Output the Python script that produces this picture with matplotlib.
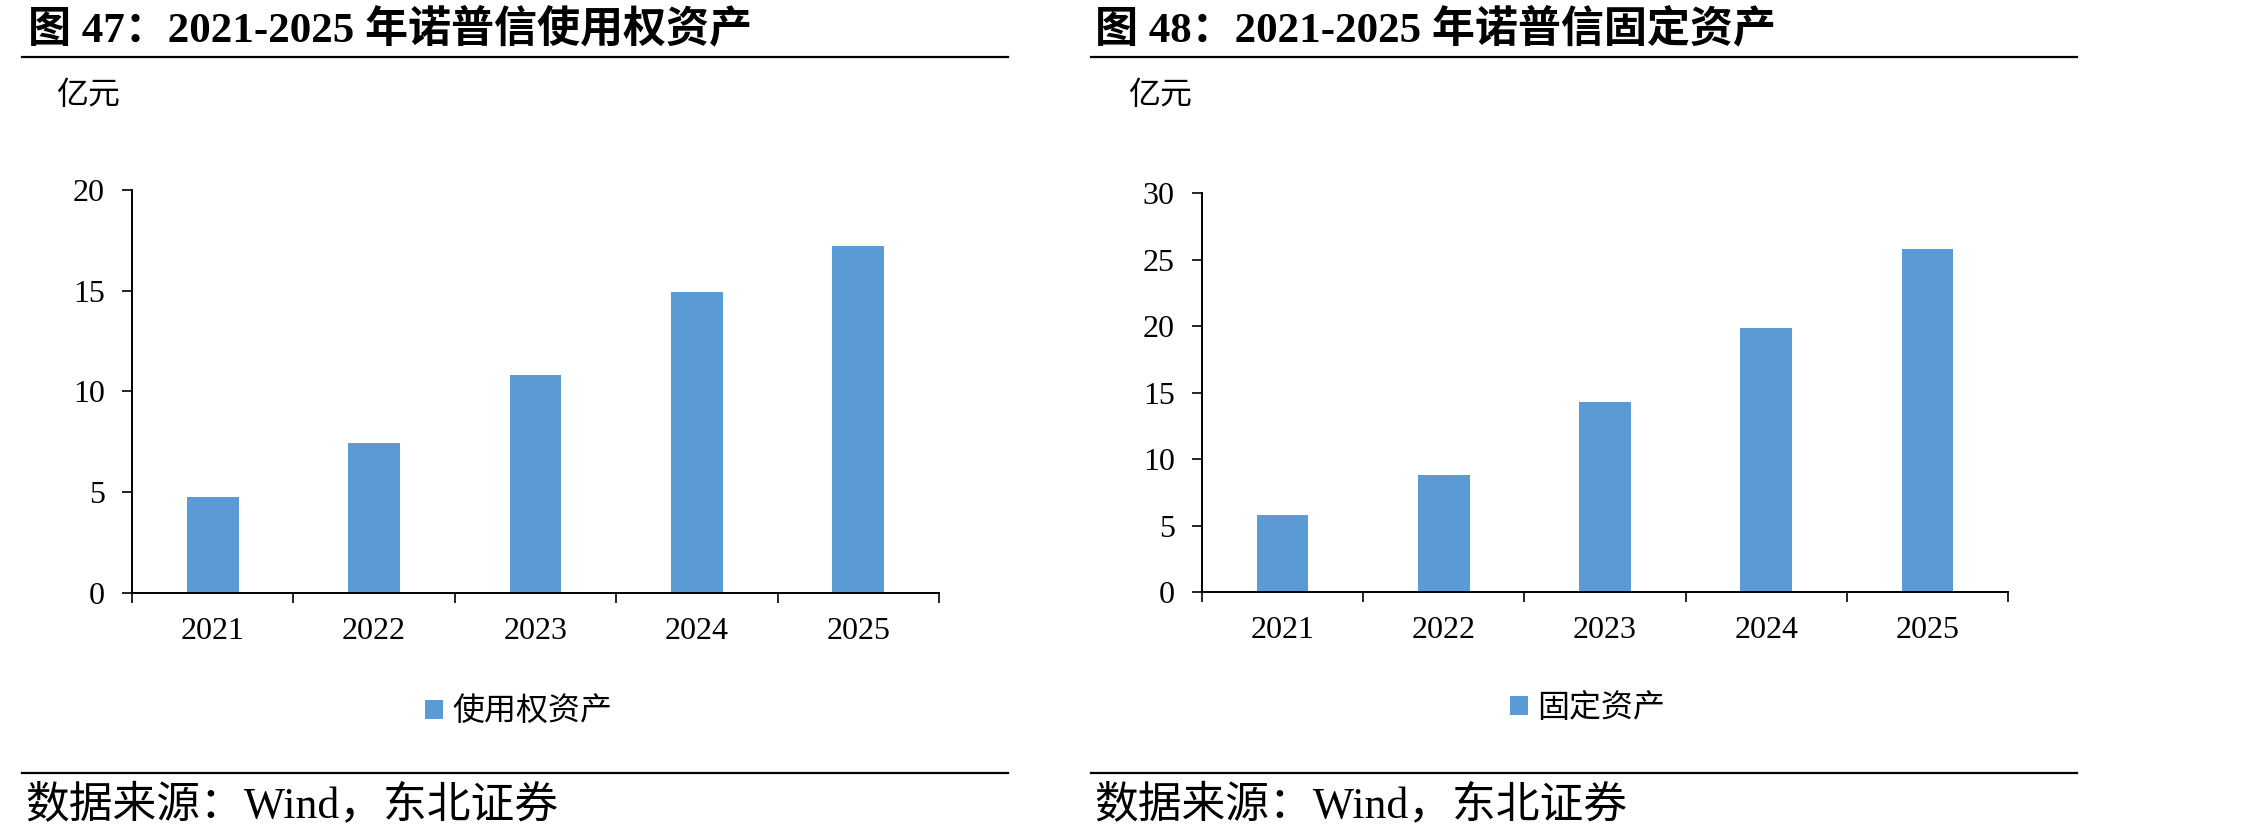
import matplotlib
matplotlib.use("Agg")
import matplotlib.pyplot as plt
from matplotlib.lines import Line2D
from matplotlib.patches import Patch

plt.rcParams['font.family'] = ['Liberation Serif', 'Noto Sans CJK SC']

years = ["2021", "2022", "2023", "2024", "2025"]
right_of_use = [4.74, 7.43, 10.83, 14.95, 17.23]
fixed_assets = [5.78, 8.82, 14.27, 19.83, 25.79]

titles = ["图 47：2021-2025 年诺普信使用权资产", "图 48：2021-2025 年诺普信固定资产"]
series_names = ["使用权资产", "固定资产"]
unit = "亿元"
source = "数据来源：Wind，东北证券"

BAR_COLOR = "#5B9BD5"
W, H = 2268, 838

fig = plt.figure(figsize=(W / 100, H / 100), dpi=100)


def fx(px):
    return px / W


def fy(py):
    return 1 - py / H


panels = [
    # plot area (left, right, top, bottom) in pixels
    dict(box=(132, 939, 190, 593), data=right_of_use, ymax=20, step=5,
         title_x=28, line=(22, 1008), unit_x=56, leg_x=519, leg_y=713),
    dict(box=(1202, 2008, 193, 592), data=fixed_assets, ymax=30, step=5,
         title_x=1095, line=(1091, 2077), unit_x=1128, leg_x=1588, leg_y=709),
]

for i, p in enumerate(panels):
    l, r, t, b = p["box"]
    ax = fig.add_axes([fx(l), fy(b), fx(r - l), (b - t) / H])
    x = range(len(years))
    ax.bar(x, p["data"], width=0.32, color=BAR_COLOR, zorder=2)
    ax.set_xlim(-0.5, len(years) - 0.5)
    ax.set_ylim(0, p["ymax"])
    ax.set_yticks(range(0, p["ymax"] + 1, p["step"]))
    ax.set_xticks([k - 0.5 for k in range(len(years) + 1)])
    ax.set_xticklabels([])
    ax.set_xticks(list(x), minor=True)
    ax.set_xticklabels(years, minor=True)
    ax.tick_params(axis="x", which="minor", length=0, pad=17, labelsize=23)
    ax.tick_params(axis="x", which="major", direction="out", length=7.5, width=1.2)
    ax.tick_params(axis="y", direction="out", length=7.5, width=1.2, pad=12, labelsize=23)
    for s in ["top", "right"]:
        ax.spines[s].set_visible(False)
    for s in ["left", "bottom"]:
        ax.spines[s].set_linewidth(1.4)
        ax.spines[s].set_color("black")

    # title, rules, unit, legend, source
    fig.text(fx(p["title_x"]), fy(29), titles[i], fontsize=31, fontweight="bold",
             ha="left", va="center")
    x0, x1 = p["line"]
    fig.add_artist(Line2D([fx(x0), fx(x1)], [fy(57), fy(57)], color="black", lw=1.6))
    fig.add_artist(Line2D([fx(x0), fx(x1)], [fy(773), fy(773)], color="black", lw=1.6))
    fig.text(fx(p["unit_x"]), fy(96), unit, fontsize=23, ha="left", va="center")
    fig.text(fx(x0 + 3), fy(805), source, fontsize=31.5, ha="left", va="center")

    handle = Patch(facecolor=BAR_COLOR, edgecolor="none")
    fig.legend([handle], [series_names[i]], loc="center",
               bbox_to_anchor=(fx(p["leg_x"]), fy(p["leg_y"])), frameon=False,
               fontsize=23, handlelength=0.55, handleheight=0.55, handletextpad=0.3,
               borderpad=0, borderaxespad=0)

fig.savefig("out.png", dpi=100)
